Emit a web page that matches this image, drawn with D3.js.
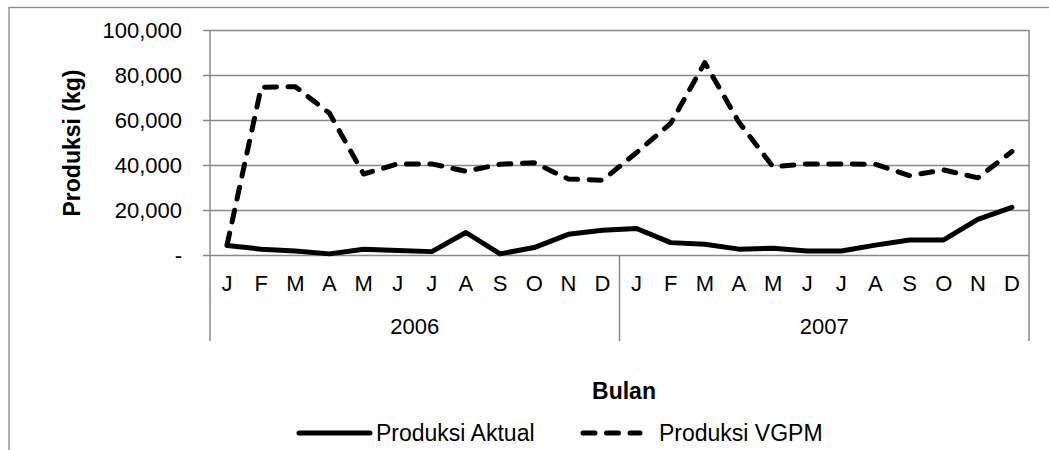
<!DOCTYPE html>
<html>
<head>
<meta charset="utf-8">
<script src="https://cdn.jsdelivr.net/npm/d3@7"></script>
<style>
  html, body { margin: 0; padding: 0; background: #fff; }
  svg { display: block; font-family: "Liberation Sans", Arial, sans-serif; }
</style>
</head>
<body>
<svg id="chart" width="1049" height="450"></svg>
<script>
// ---- data ----
const months = ["J","F","M","A","M","J","J","A","S","O","N","D"];
const years = ["2006","2007"];
const produksiAktual = [4200, 2600, 1800, 500, 2600, 2000, 1500, 10000, 500, 3300, 9200, 11000,
                        11800, 5500, 4800, 2600, 3000, 1800, 1800, 4400, 6700, 6700, 15800, 21200];
const produksiVGPM = [4500, 74500, 74800, 63000, 36000, 40500, 40500, 37200, 40300, 41000, 33800, 33200,
                      45500, 58500, 85500, 59000, 39200, 40500, 40500, 40300, 35300, 37800, 34300, 46000];
const yTickValues = [0, 20000, 40000, 60000, 80000, 100000];
const seriesNames = ["Produksi Aktual", "Produksi VGPM"];
const yTitle = "Produksi (kg)";
const xTitle = "Bulan";

// ---- layout ----
const svg = d3.select("#chart");
const plot = { left: 210, right: 1029, top: 30, bottom: 255 };
const FS = 22;
const gridColor = "#898989";

const cats = [];
years.forEach(y => months.forEach((m, i) => cats.push({ key: y + "-" + i, label: m, year: y })));

const x = d3.scaleBand().domain(cats.map(d => d.key)).range([plot.left, plot.right]).paddingInner(0).paddingOuter(0);
const y = d3.scaleLinear().domain([0, 100000]).range([plot.bottom, plot.top]);

// outer chart border (left/top visible)
svg.append("rect").attr("x", 9).attr("y", 7.5).attr("width", 1200).attr("height", 600)
  .attr("fill", "none").attr("stroke", "#8a8a8a").attr("stroke-width", 1.3);

// y axis with gridlines
const fmt = v => v === 0 ? "-" : d3.format(",")(v);
const yAxis = d3.axisLeft(y).tickValues(yTickValues).tickFormat(fmt)
  .tickSizeInner(-(plot.right - plot.left)).tickSizeOuter(0).tickPadding(22);
const gy = svg.append("g").attr("transform", `translate(${plot.left},0)`).call(yAxis);
gy.select(".domain").remove();
gy.selectAll(".tick line").attr("stroke", gridColor).attr("stroke-width", 1.5).attr("x1", -7);
gy.selectAll(".tick text").attr("font-size", FS).attr("fill", "#000").attr("x", -28).attr("dy", "0.36em");

// plot right border and left axis line
svg.append("line").attr("x1", plot.right).attr("x2", plot.right).attr("y1", plot.top).attr("y2", 341)
  .attr("stroke", gridColor).attr("stroke-width", 1.5);
svg.append("line").attr("x1", plot.left).attr("x2", plot.left).attr("y1", plot.top).attr("y2", 341)
  .attr("stroke", gridColor).attr("stroke-width", 1.5);

// year divider
const midX = x(cats[12].key);
svg.append("line").attr("x1", midX).attr("x2", midX).attr("y1", plot.bottom).attr("y2", 341)
  .attr("stroke", gridColor).attr("stroke-width", 1.5);

// x axis month labels
const xAxis = d3.axisBottom(x).tickFormat((d, i) => cats[i].label).tickSize(0).tickPadding(0);
const gx = svg.append("g").attr("transform", `translate(0,${plot.bottom})`).call(xAxis);
gx.select(".domain").remove();
gx.selectAll(".tick text").attr("font-size", FS).attr("fill", "#000").attr("y", 36).attr("dy", 0);

// year labels
years.forEach((yr, j) => {
  const x0 = x(cats[j * 12].key), x1 = x(cats[j * 12 + 11].key) + x.bandwidth();
  svg.append("text").attr("x", (x0 + x1) / 2).attr("y", 334).attr("text-anchor", "middle")
    .attr("font-size", FS).text(yr);
});

// lines
const line = d3.line().x((d, i) => x(cats[i].key) + x.bandwidth() / 2).y(d => y(d));
svg.append("path").datum(produksiAktual).attr("d", line).attr("fill", "none")
  .attr("stroke", "#000").attr("stroke-width", 5).attr("stroke-linejoin", "round").attr("stroke-linecap", "round");
svg.append("path").datum(produksiVGPM).attr("d", line).attr("fill", "none")
  .attr("stroke", "#000").attr("stroke-width", 5).attr("stroke-linejoin", "round").attr("stroke-linecap", "round")
  .attr("stroke-dasharray", "12,11.5");

// axis titles
svg.append("text").attr("transform", "translate(79.5,143) rotate(-90)").attr("text-anchor", "middle")
  .attr("font-size", 23).attr("font-weight", "bold").text(yTitle);
svg.append("text").attr("x", 624).attr("y", 399).attr("text-anchor", "middle")
  .attr("font-size", 23).attr("font-weight", "bold").text(xTitle);

// legend
const legend = [
  { name: seriesNames[0], x1: 299, x2: 370, tx: 376, dash: null },
  { name: seriesNames[1], x1: 583, x2: 640, tx: 659, dash: "12,11.5" }
];
legend.forEach(l => {
  const ln = svg.append("line").attr("x1", l.x1).attr("x2", l.x2).attr("y1", 433).attr("y2", 433)
    .attr("stroke", "#000").attr("stroke-width", 5).attr("stroke-linecap", "round");
  if (l.dash) ln.attr("stroke-dasharray", l.dash);
  svg.append("text").attr("x", l.tx).attr("y", 441).attr("font-size", 23).text(l.name);
});
</script>
</body>
</html>
